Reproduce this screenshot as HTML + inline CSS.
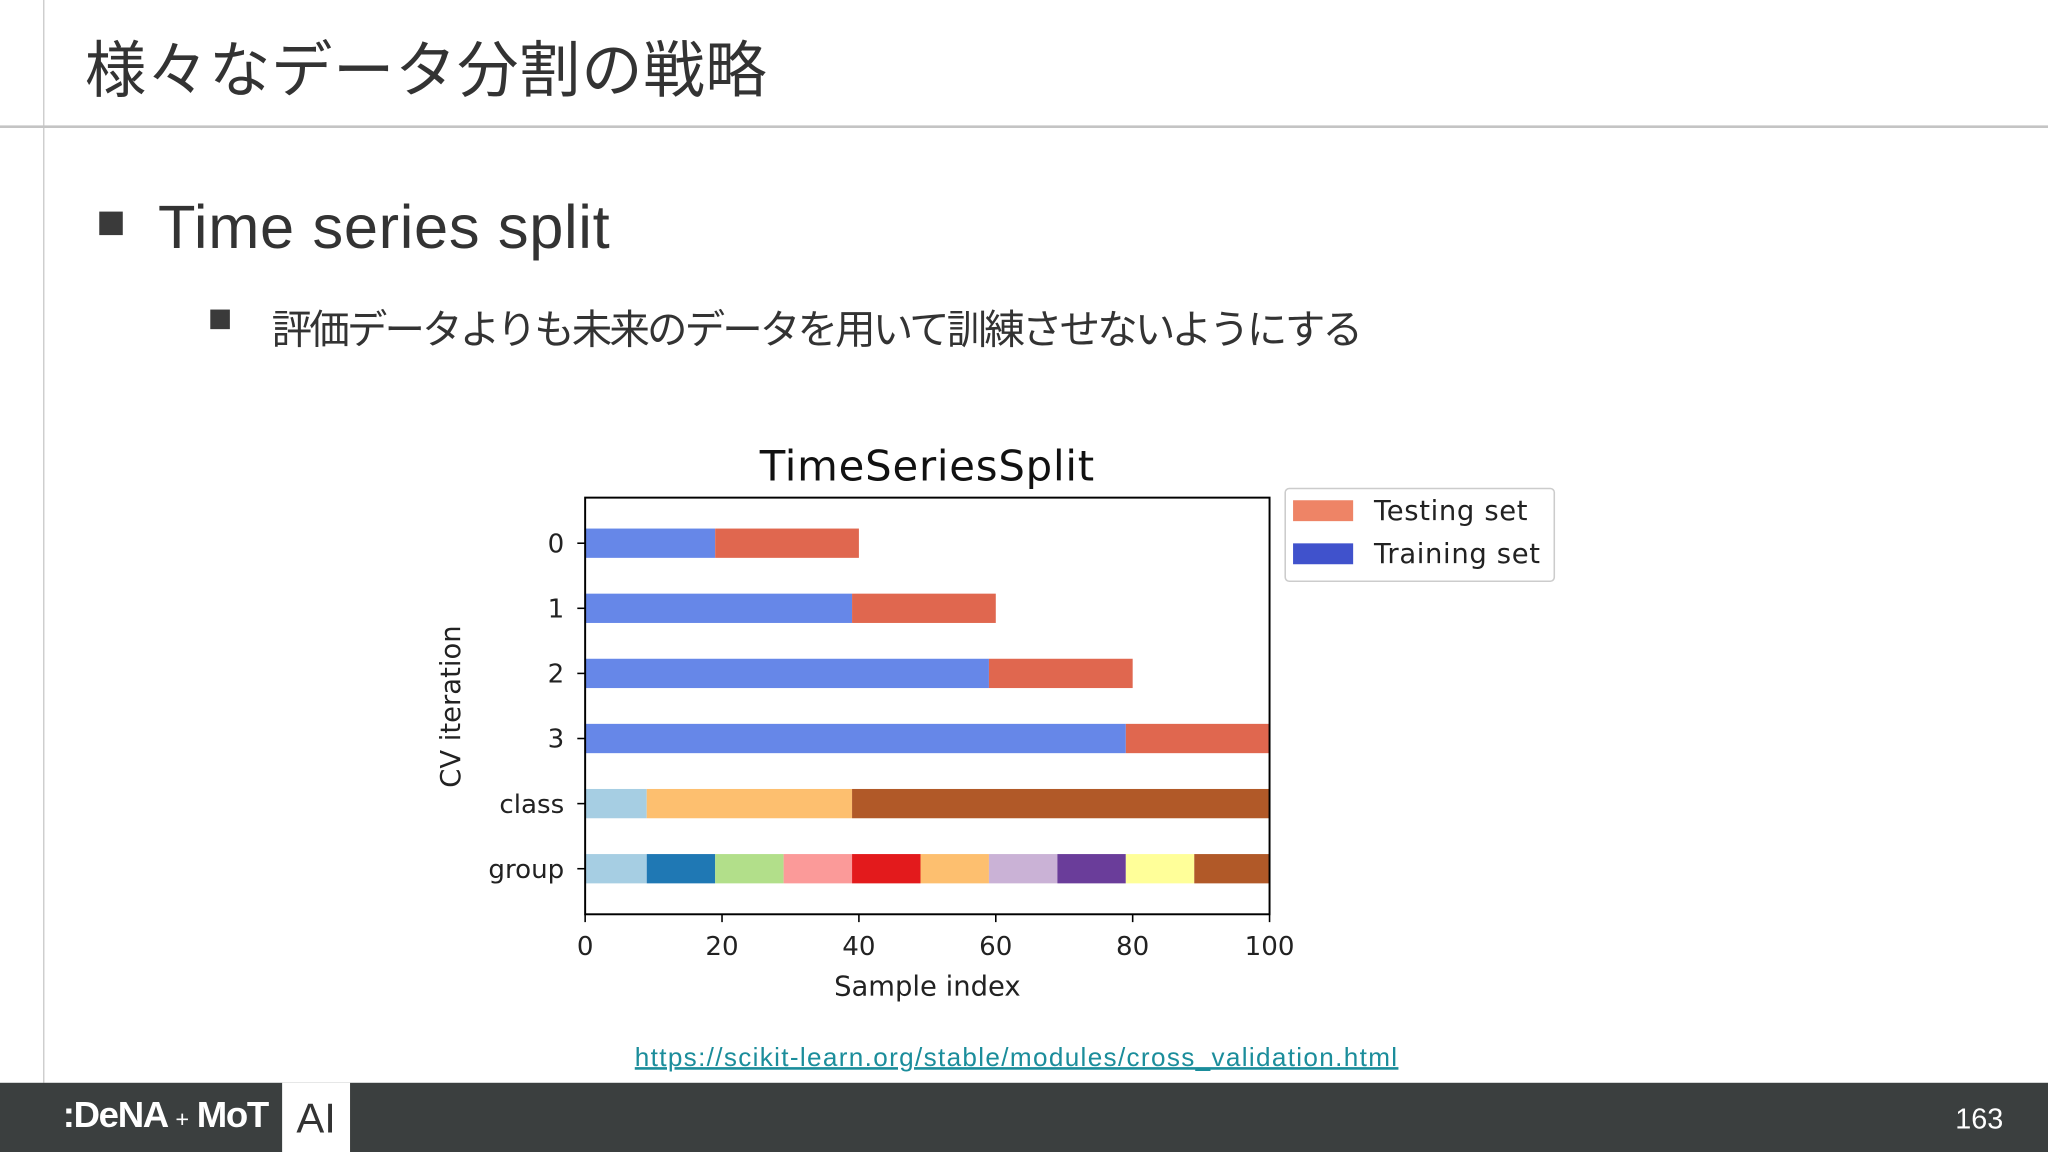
<!DOCTYPE html>
<html><head><meta charset="utf-8"><style>
html,body{margin:0;padding:0;background:#fff;overflow:hidden}
#wrap{width:1568px;height:882px;position:relative;transform:scale(1.306122);transform-origin:0 0;font-family:"Liberation Sans","Noto Sans CJK JP",sans-serif}
.abs{position:absolute}
</style></head><body>
<div id="wrap">
<div class="abs" style="left:33px;top:0;width:1px;height:829px;background:#c8c8c8"></div>
<div class="abs" style="left:65px;top:15px;font-size:47px;color:#333;white-space:nowrap;letter-spacing:0.5px">様々なデータ分割の戦略</div>
<div class="abs" style="left:0;top:96px;width:1568px;height:2px;background:#c4c4c4"></div>
<div class="abs" style="left:76px;top:162px;width:18px;height:18px;background:#3a3a3a"></div>
<div class="abs" style="left:121px;top:146px;font-size:47px;color:#333;white-space:nowrap;letter-spacing:0.5px">Time series split</div>
<div class="abs" style="left:161px;top:237px;width:15px;height:15px;background:#3a3a3a"></div>
<div class="abs" style="left:208px;top:227px;font-size:31px;color:#333;white-space:nowrap;letter-spacing:-2.2px">評価データよりも未来のデータを用いて訓練させないようにする</div>

<svg class="abs" style="left:0;top:0" width="1568" height="882">
<g id="chart" font-family="'DejaVu Sans',sans-serif"></g>
</svg>

<div class="abs" style="left:486px;top:799px;font-size:20px;color:#1b8d9b;text-decoration:underline;white-space:nowrap;letter-spacing:1.02px">https://scikit-learn.org/stable/modules/cross_validation.html</div>

<div class="abs" style="left:0;top:829px;width:1568px;height:53px;background:#3b3f3f"></div>
<div class="abs" style="left:48px;top:838px;font-size:28px;color:#fff;font-weight:bold;white-space:nowrap;letter-spacing:-1px">:DeNA <span style="font-size:18px;font-weight:normal">+</span> MoT</div>
<div class="abs" style="left:216px;top:829px;width:52px;height:53px;background:#fff;color:#333;font-size:32px;text-align:center;line-height:55px">AI</div>
<div class="abs" style="left:1497px;top:844px;font-size:22px;color:#fff">163</div>
</div>
<script>
const rowLabels=['0','1','2','3','class','group'];
const trainEnd=[19,39,59,79];
const testEnd=[40,60,80,100];
const classBounds=[0,9,39,100];
const classColors=['#a6cee3','#fdbf6f','#b15928'];
const groupBounds=[0,9,19,29,39,49,59,69,79,89,100];
const groupColors=['#a6cee3','#1f78b4','#b2df8a','#fb9a99','#e31a1c','#fdbf6f','#cab2d6','#6a3d9a','#ffff99','#b15928'];
const xTicks=[0,20,40,60,80,100];

const NS='http://www.w3.org/2000/svg';
const g=document.getElementById('chart');
const L=448,R=972,T=381,B=700;
const xs=v=>L+(v/100)*(R-L);
const rowH=(B-T)/6.4;
const ys=i=>T+(i+0.7)*rowH;
const bh=0.45*rowH;
function mk(tag,attrs){const e=document.createElementNS(NS,tag);for(const k in attrs)e.setAttribute(k,attrs[k]);g.appendChild(e);return e;}
function rect(x0,x1,row,fill,name){
  const r=mk('rect',{x:xs(x0),y:ys(row)-bh/2,width:xs(x1)-xs(x0),height:bh,fill:fill});
  
  
}
for(let i=0;i<trainEnd.length;i++){
  rect(0,trainEnd[i],i,'#6687e8','train-bar-'+i);
  rect(trainEnd[i],testEnd[i],i,'#e0674f','test-bar-'+i);
}
for(let i=0;i<classColors.length;i++) rect(classBounds[i],classBounds[i+1],4,classColors[i],'class-segment-'+i);
for(let i=0;i<groupColors.length;i++) rect(groupBounds[i],groupBounds[i+1],5,groupColors[i],'group-segment-'+i);
const frame=mk('rect',{x:L,y:T,width:R-L,height:B-T,fill:'none',stroke:'#000','stroke-width':1.5});


rowLabels.forEach((lab,i)=>{
  mk('line',{x1:L-6,x2:L,y1:ys(i),y2:ys(i),stroke:'#000','stroke-width':1.2});
  const t=mk('text',{x:L-16,y:ys(i)+7,'text-anchor':'end','font-size':20,fill:'#222'});
  t.textContent=lab;
  
  
});
xTicks.forEach(v=>{
  mk('line',{x1:xs(v),x2:xs(v),y1:B,y2:B+6,stroke:'#000','stroke-width':1.2});
  const t=mk('text',{x:xs(v),y:B+31,'text-anchor':'middle','font-size':20,fill:'#222'});
  t.textContent=v;
  
  
});
const tt=mk('text',{x:710,y:368,'text-anchor':'middle','font-size':32,fill:'#111','letter-spacing':0.6});tt.textContent='TimeSeriesSplit';


const xl=mk('text',{x:710,y:762,'text-anchor':'middle','font-size':21,fill:'#222'});xl.textContent='Sample index';


const yl=mk('text',{x:0,y:0,'text-anchor':'middle','font-size':21,fill:'#222',transform:'translate(352,541) rotate(-90)'});yl.textContent='CV iteration';


const lg=mk('rect',{x:984,y:374,width:206,height:71,fill:'#fff',stroke:'#ccc','stroke-width':1.2,rx:3});


mk('rect',{x:990,y:383,width:46,height:16,fill:'#ee8466'});
mk('rect',{x:990,y:416,width:46,height:16,fill:'#4052cc'});
const l1=mk('text',{x:1052,y:398,'font-size':21,fill:'#222','letter-spacing':0.5});l1.textContent='Testing set';


const l2=mk('text',{x:1052,y:431,'font-size':21,fill:'#222','letter-spacing':0.5});l2.textContent='Training set';


</script>
</body></html>
